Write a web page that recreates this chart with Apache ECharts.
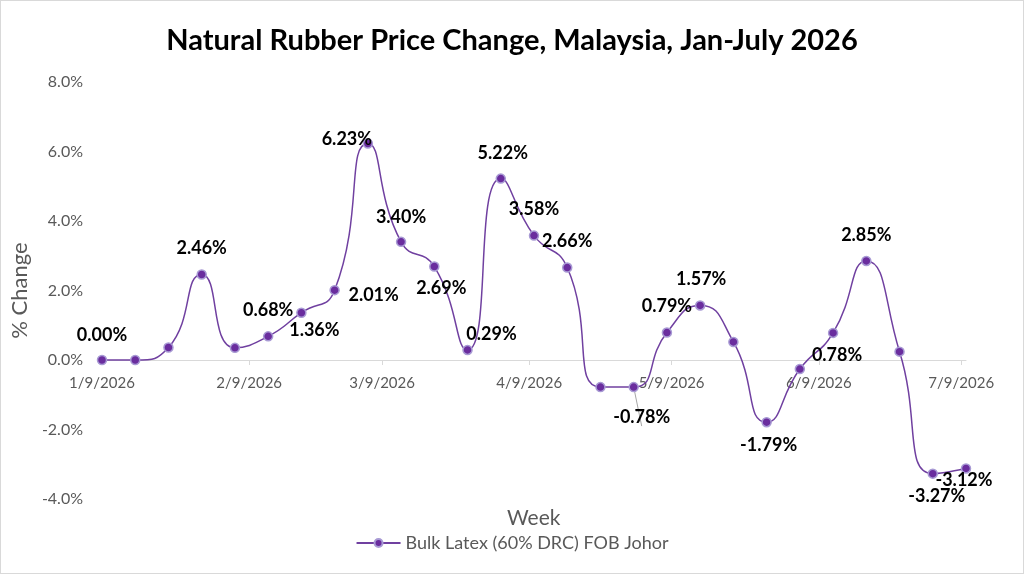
<!DOCTYPE html>
<html>
<head>
<meta charset="utf-8">
<script src="https://cdn.jsdelivr.net/npm/echarts@6/dist/echarts.min.js"></script>
<style>
  html, body { margin: 0; padding: 0; background: #fff; }
  #chart { width: 1022px; height: 572px; border: 1px solid #d9d9d9; }
</style>
</head>
<body>
<div id="chart"></div>
<script>
// weekly observations (Fridays)
var weeks = [
  "2026-01-09", "2026-01-16", "2026-01-23", "2026-01-30",
  "2026-02-06", "2026-02-13", "2026-02-20", "2026-02-27",
  "2026-03-06", "2026-03-13", "2026-03-20", "2026-03-27",
  "2026-04-03", "2026-04-10", "2026-04-17", "2026-04-24",
  "2026-05-01", "2026-05-08", "2026-05-15", "2026-05-22",
  "2026-05-29", "2026-06-05", "2026-06-12", "2026-06-19",
  "2026-06-26", "2026-07-03", "2026-07-10"
];
// % change, Bulk Latex (60% DRC) FOB Johor
var pctChange = [
  0.00, 0.00, 0.36, 2.46,
  0.35, 0.68, 1.36, 2.01,
  6.23, 3.40, 2.69, 0.29,
  5.22, 3.58, 2.66, -0.78,
  -0.78, 0.79, 1.57, 0.52,
  -1.79, -0.26, 0.78, 2.85,
  0.24, -3.27, -3.12
];
// which points carry a data label
var labelled = [
  1, 0, 0, 1,
  0, 1, 1, 1,
  1, 1, 1, 1,
  1, 1, 1, 0,
  1, 1, 1, 0,
  1, 0, 1, 1,
  0, 1, 1
];
var tickDates = ["2026-01-09", "2026-02-09", "2026-03-09", "2026-04-09", "2026-05-09", "2026-06-09", "2026-07-09"];
var yMin = -4, yMax = 8, yStep = 2;

// label nudges (px from the marker centre), styling only
var labelShift = [
  [0, -25], null, null, [0, -26],
  null, [0, -26], [13, 17], [39, 5],
  [-21, -4], [0, -25], [7, 22], [24, -16],
  [2, -25], [0, -26], [0, -26], null,
  [8, 30], [0, -26], [1, -26], null,
  [2, 23], null, [4, 22], [0, -26],
  null, [4, 23], [-2, 12]
];

function ts(s) {
  var p = s.split("-");
  return new Date(+p[0], +p[1] - 1, +p[2]).getTime();
}

var font = "Lato, 'Open Sans', sans-serif";
var grey = "#595959";
var grid = { left: 97, right: 57, top: 81, bottom: 74 };
var plotH = 572 - grid.top - grid.bottom;
// the date axis sits on the 0% line, as in the spreadsheet chart
var zeroShift = plotH * (0 - yMin) / (yMax - yMin);

var seriesData = weeks.map(function (w, i) {
  var item = { value: [ts(w), pctChange[i]] };
  if (labelled[i]) {
    item.label = { show: true, position: "inside", offset: labelShift[i] };
    if (labelShift[i][1] >= 30) {
      item.labelLine = { show: true, lineStyle: { color: "#a6a6a6", width: 1 } };
    }
  } else {
    item.label = { show: false };
  }
  return item;
});

var chart = echarts.init(document.getElementById("chart"));
chart.setOption({
  animation: false,
  textStyle: { fontFamily: font },
  title: {
    text: "Natural Rubber Price Change, Malaysia, Jan-July 2026",
    left: "center",
    top: 20,
    textStyle: { fontSize: 29, fontWeight: "bold", color: "#000", fontFamily: font }
  },
  graphic: [{
    type: "text",
    left: 506,
    top: 507,
    style: { text: "Week", fontSize: 21, fill: grey, fontFamily: font }
  }],
  legend: {
    bottom: 16,
    left: "center",
    itemWidth: 44,
    itemHeight: 10,
    itemGap: 6,
    textStyle: { fontSize: 18, color: grey, fontFamily: font },
    data: ["Bulk Latex (60% DRC) FOB Johor"]
  },
  grid: grid,
  xAxis: {
    type: "value",
    min: ts(weeks[0]),
    max: ts(weeks[weeks.length - 1]),
    offset: -zeroShift,
    axisLine: { show: true, onZero: false, lineStyle: { color: "#d9d9d9", width: 1 } },
    axisTick: {
      show: true,
      customValues: tickDates.map(ts),
      length: 5,
      lineStyle: { color: "#d9d9d9" }
    },
    axisLabel: {
      customValues: tickDates.map(ts),
      margin: 16,
      fontSize: 15,
      color: grey,
      fontFamily: font,
      formatter: function (v) {
        var d = new Date(v);
        return (d.getMonth() + 1) + "/" + d.getDate() + "/" + d.getFullYear();
      }
    },
    splitLine: { show: false }
  },
  yAxis: {
    type: "value",
    min: yMin,
    max: yMax,
    interval: yStep,
    name: "% Change",
    nameLocation: "middle",
    nameRotate: 90,
    nameGap: 70,
    nameTextStyle: { fontSize: 22, color: grey, fontFamily: font },
    axisLine: { show: false },
    axisTick: { show: false },
    splitLine: { show: false },
    axisLabel: {
      margin: 19,
      fontSize: 16,
      color: grey,
      fontFamily: font,
      formatter: function (v) { return v.toFixed(1) + "%"; }
    }
  },
  series: [{
    name: "Bulk Latex (60% DRC) FOB Johor",
    type: "line",
    smooth: 0.55,
    symbol: "circle",
    symbolSize: 9,
    lineStyle: { color: "#7040a0", width: 1.5 },
    itemStyle: { color: "#6a2d9e", borderColor: "#a89ad4", borderWidth: 1.5 },
    label: {
      fontSize: 18,
      fontWeight: "bold",
      color: "#000",
      fontFamily: font,
      formatter: function (p) { return p.value[1].toFixed(2) + "%"; }
    },
    data: seriesData
  }]
});
</script>
</body>
</html>
